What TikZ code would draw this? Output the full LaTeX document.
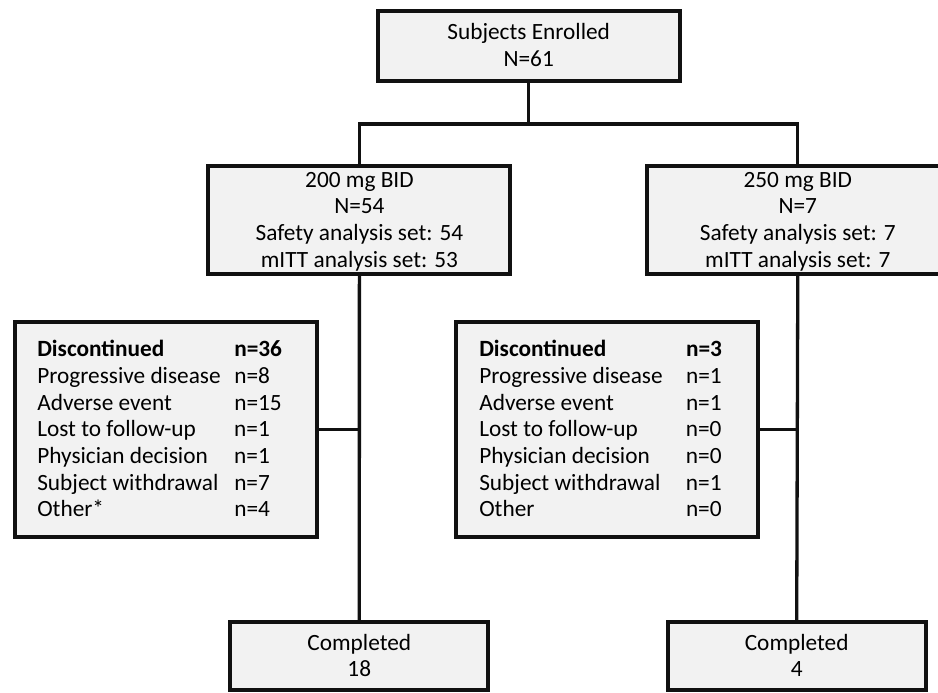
\documentclass[tikz,border=0pt]{standalone}
\usepackage{fontspec}
\setmainfont{Carlito}
\definecolor{boxfill}{HTML}{F2F2F2}
\definecolor{boxline}{HTML}{111111}
\newcommand{\ctxt}[1]{\begin{tabular}[t]{@{}c@{}}#1\end{tabular}}
\newcommand{\ltxt}[2]{\begin{tabular}[t]{@{}l@{}l@{}}#2\end{tabular}}
\begin{document}
\begin{tikzpicture}[x=1pt,y=1pt,
  flowbox/.style={draw=boxline,fill=boxfill,line width=4pt,rectangle,inner sep=0pt,outer sep=0pt},
  conn/.style={draw=boxline,line width=3.3pt},
  lbl/.style={inner sep=0pt,outer sep=0pt,anchor=base,font=\fontsize{23.3}{26.7}\selectfont},
  llbl/.style={inner sep=0pt,outer sep=0pt,anchor=base west,font=\fontsize{23.3}{26.7}\selectfont}]
\useasboundingbox (0,0) rectangle (938,-693);
\fill[white] (0,0) rectangle (938,-693);
% boxes
\node[flowbox,minimum width=302pt,minimum height=70pt] (top) at (528.7,-46.3) {};
\node[flowbox,minimum width=302pt,minimum height=108pt] (b200) at (359.4,-220) {};
\node[flowbox,minimum width=302pt,minimum height=108pt] (b250) at (797.8,-220) {};
\node[flowbox,minimum width=302pt,minimum height=215pt] (dl) at (165.6,-429.6) {};
\node[flowbox,minimum width=302pt,minimum height=215pt] (dr) at (607.1,-429.6) {};
\node[flowbox,minimum width=258pt,minimum height=68pt] (cl) at (359.3,-655.6) {};
\node[flowbox,minimum width=258pt,minimum height=68pt] (cr) at (796.7,-655.6) {};
% texts
\node[lbl] (ttop) at (528.7,-40) {\ctxt{Subjects Enrolled\\N=61}};
\node[lbl] (t200) at (359.4,-187) {\ctxt{200 mg BID\\N=54\\Safety analysis set: 54\\mITT analysis set: 53}};
\node[lbl] (t250) at (797.8,-187) {\ctxt{250 mg BID\\N=7\\Safety analysis set: 7\\mITT analysis set: 7}};
\node[lbl] (tcl) at (359.3,-650) {\ctxt{Completed\\18}};
\node[lbl] (tcr) at (796.7,-650) {\ctxt{Completed\\4}};
\node[llbl] (tdl) at (37.3,-356.7) {\begin{tabular}[t]{@{}p{197pt}@{}l@{}}
\textbf{Discontinued} & \textbf{n=36}\\
Progressive disease & n=8\\
Adverse event & n=15\\
Lost to follow-up & n=1\\
Physician decision & n=1\\
Subject withdrawal & n=7\\
Other* & n=4
\end{tabular}};
\node[llbl] (tdr) at (479.3,-356.7) {\begin{tabular}[t]{@{}p{206.7pt}@{}l@{}}
\textbf{Discontinued} & \textbf{n=3}\\
Progressive disease & n=1\\
Adverse event & n=1\\
Lost to follow-up & n=0\\
Physician decision & n=0\\
Subject withdrawal & n=1\\
Other & n=0
\end{tabular}};
% connectors
\coordinate (bar) at (528.7,-124);
\draw[conn] (top.south) -- (bar);
\draw[conn] (b200.north) |- (bar) -| (b250.north);
\draw[conn] (b200.south) -- (cl.north);
\draw[conn] (b250.south) -- (cr.north);
\draw[conn] (dl.east) -- (dl.east -| b200.south);
\draw[conn] (dr.east) -- (dr.east -| b250.south);
\end{tikzpicture}
\end{document}
